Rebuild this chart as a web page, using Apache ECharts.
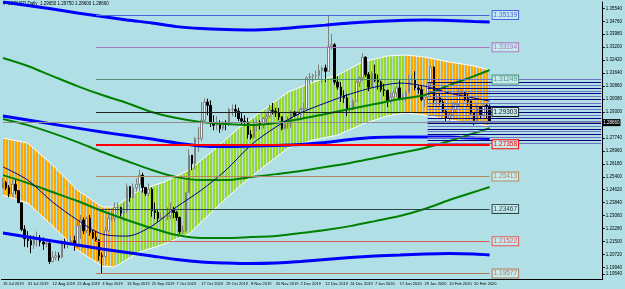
<!DOCTYPE html>
<html>
<head>
<meta charset="utf-8">
<script src="https://cdn.jsdelivr.net/npm/echarts@6/dist/echarts.min.js"></script>
<style>
html, body { margin: 0; padding: 0; background: #b0e0e6; }
#main { width: 625px; height: 289px; }
</style>
</head>
<body>
<div id="main"></div>
<script>
// daily candles, 19 Jul 2019 .. 27 Feb 2020 : [open, high, low, close]
var ohlc = [
  [1.2475,1.2534,1.2468,1.2505],[1.2505,1.2515,1.2460,1.2474],[1.2474,1.2490,1.2417,1.2438],[1.2438,1.2521,1.2421,1.2494],
  [1.2494,1.2520,1.2435,1.2456],[1.2456,1.2460,1.2380,1.2385],[1.2383,1.2385,1.2212,1.2223],[1.2223,1.2248,1.2119,1.2167],
  [1.2166,1.2213,1.2115,1.2155],[1.2155,1.2187,1.2080,1.2130],[1.2130,1.2190,1.2105,1.2165],[1.2165,1.2210,1.2117,1.2172],
  [1.2172,1.2190,1.2122,1.2147],[1.2147,1.2175,1.2100,1.2135],[1.2135,1.2160,1.2115,1.2140],[1.2140,1.2147,1.2015,1.2030],
  [1.2030,1.2090,1.2025,1.2055],[1.2055,1.2092,1.2037,1.2065],[1.2065,1.2085,1.2035,1.2055],[1.2055,1.2160,1.2050,1.2150],
  [1.2150,1.2168,1.2108,1.2140],[1.2140,1.2158,1.2110,1.2145],[1.2145,1.2185,1.2132,1.2155],[1.2155,1.2185,1.2095,1.2130],
  [1.2130,1.2273,1.2110,1.2245],[1.2245,1.2310,1.2165,1.2280],[1.2280,1.2295,1.2195,1.2215],[1.2215,1.2300,1.2200,1.2290],
  [1.2290,1.2310,1.2185,1.2205],[1.2205,1.2220,1.2165,1.2175],[1.2175,1.2215,1.2150,1.2160],[1.2160,1.2165,1.2035,1.2065],
  [1.2065,1.2085,1.1958,1.2060],[1.2060,1.2240,1.2050,1.2215],[1.2215,1.2330,1.2210,1.2290],[1.2290,1.2335,1.2270,1.2290],
  [1.2290,1.2385,1.2270,1.2355],[1.2355,1.2385,1.2315,1.2355],[1.2355,1.2360,1.2300,1.2320],[1.2320,1.2385,1.2270,1.2335],
  [1.2335,1.2500,1.2320,1.2480],[1.2480,1.2485,1.2390,1.2415],[1.2415,1.2500,1.2410,1.2475],[1.2475,1.2530,1.2450,1.2495],
  [1.2495,1.2582,1.2455,1.2550],[1.2550,1.2565,1.2445,1.2475],[1.2475,1.2480,1.2425,1.2440],[1.2440,1.2500,1.2425,1.2465],
  [1.2465,1.2475,1.2300,1.2335],[1.2335,1.2385,1.2285,1.2325],[1.2325,1.2345,1.2270,1.2290],[1.2290,1.2325,1.2285,1.2295],
  [1.2295,1.2345,1.2205,1.2300],[1.2300,1.2355,1.2280,1.2305],[1.2305,1.2385,1.2285,1.2340],[1.2340,1.2360,1.2290,1.2325],
  [1.2325,1.2335,1.2275,1.2295],[1.2295,1.2300,1.2195,1.2210],[1.2210,1.2245,1.2195,1.2215],[1.2215,1.2450,1.2205,1.2445],
  [1.2445,1.2705,1.2440,1.2670],[1.2670,1.2670,1.2580,1.2620],[1.2620,1.2780,1.2585,1.2770],[1.2770,1.2840,1.2690,1.2770],
  [1.2770,1.2990,1.2755,1.2880],[1.2880,1.3013,1.2865,1.2990],[1.2990,1.3010,1.2910,1.2970],[1.2970,1.3000,1.2840,1.2865],
  [1.2865,1.2910,1.2820,1.2850],[1.2850,1.2905,1.2820,1.2855],[1.2855,1.2880,1.2805,1.2830],[1.2830,1.2875,1.2815,1.2860],
  [1.2860,1.2880,1.2820,1.2855],[1.2855,1.2955,1.2845,1.2945],[1.2945,1.2975,1.2905,1.2945],[1.2945,1.2975,1.2900,1.2935],
  [1.2935,1.2955,1.2875,1.2890],[1.2890,1.2925,1.2855,1.2875],[1.2875,1.2910,1.2845,1.2870],[1.2870,1.2895,1.2770,1.2795],
  [1.2795,1.2820,1.2765,1.2775],[1.2775,1.2885,1.2770,1.2860],[1.2860,1.2885,1.2815,1.2860],[1.2860,1.2880,1.2825,1.2855],
  [1.2855,1.2900,1.2830,1.2890],[1.2890,1.2920,1.2860,1.2905],[1.2905,1.2975,1.2895,1.2940],[1.2940,1.2985,1.2915,1.2935],
  [1.2935,1.2955,1.2900,1.2925],[1.2925,1.2955,1.2880,1.2900],[1.2900,1.2905,1.2820,1.2830],[1.2830,1.2880,1.2825,1.2860],
  [1.2860,1.2905,1.2830,1.2860],[1.2860,1.2940,1.2835,1.2930],[1.2930,1.2935,1.2900,1.2910],[1.2910,1.2935,1.2885,1.2930],
  [1.2930,1.2960,1.2895,1.2945],[1.2945,1.2985,1.2895,1.2950],[1.2950,1.3145,1.2945,1.3135],[1.3135,1.3165,1.3095,1.3145],
  [1.3145,1.3160,1.3110,1.3150],[1.3150,1.3180,1.3130,1.3150],[1.3150,1.3215,1.3125,1.3180],[1.3180,1.3205,1.3105,1.3195],
  [1.3195,1.3215,1.3110,1.3175],[1.3175,1.3515,1.3175,1.3325],[1.3325,1.3400,1.3305,1.3335],[1.3335,1.3345,1.3095,1.3110],
  [1.3110,1.3145,1.3065,1.3080],[1.3080,1.3110,1.2990,1.3030],[1.3030,1.3060,1.2985,1.3015],[1.3015,1.3040,1.2905,1.2945],
  [1.2945,1.2970,1.2930,1.2945],[1.2945,1.3010,1.2940,1.2995],[1.2995,1.3120,1.2990,1.3110],[1.3110,1.3145,1.3080,1.3135],
  [1.3135,1.3285,1.3115,1.3260],[1.3260,1.3265,1.3140,1.3155],[1.3155,1.3170,1.3055,1.3080],[1.3080,1.3175,1.3075,1.3160],
  [1.3160,1.3215,1.3110,1.3120],[1.3120,1.3155,1.3065,1.3110],[1.3110,1.3120,1.3050,1.3065],[1.3065,1.3100,1.3025,1.3060],
  [1.3060,1.3065,1.2960,1.2995],[1.2995,1.3045,1.2980,1.3020],[1.3020,1.3060,1.2995,1.3045],[1.3045,1.3090,1.3020,1.3075],
  [1.3075,1.3120,1.3000,1.3010],[1.3010,1.3045,1.2995,1.3020],[1.3020,1.3060,1.2990,1.3045],[1.3045,1.3155,1.3045,1.3120],
  [1.3120,1.3155,1.3095,1.3125],[1.3125,1.3175,1.3060,1.3075],[1.3075,1.3090,1.3040,1.3065],[1.3065,1.3090,1.2995,1.3005],
  [1.3005,1.3030,1.2960,1.3020],[1.3020,1.3110,1.2975,1.3100],[1.3100,1.3210,1.3070,1.3200],[1.3200,1.3205,1.2975,1.3000],
  [1.3000,1.3040,1.2960,1.3015],[1.3015,1.3045,1.2975,1.2990],[1.2990,1.3010,1.2925,1.2935],[1.2935,1.2945,1.2870,1.2895],
  [1.2895,1.2935,1.2870,1.2915],[1.2915,1.2990,1.2905,1.2945],[1.2945,1.2990,1.2925,1.2975],[1.2975,1.3070,1.2965,1.3045],
  [1.3045,1.3065,1.3020,1.3045],[1.3045,1.3050,1.2995,1.3010],[1.3010,1.3040,1.2970,1.2995],[1.2995,1.3000,1.2915,1.2925],
  [1.2925,1.2930,1.2850,1.2880],[1.2880,1.2975,1.2875,1.2960],[1.2960,1.2965,1.2890,1.2915],[1.2915,1.2985,1.2910,1.2970],
  [1.2970,1.2980,1.2890,1.2965],[1.2965,1.2975,1.2860,1.2866]
];

// indicator lines, read at every 8th bar
var lineIdx = [0, 8, 16, 24, 32, 40, 48, 56, 64, 72, 80, 88, 96, 104, 112, 120, 128, 136, 144, 152, 157];
var blueTop = [1.3592,1.3571,1.3550,1.3526,1.3505,1.3484,1.3466,1.3444,1.3432,1.3426,1.3423,1.3429,1.3441,1.3453,1.3466,1.3475,1.3481,1.3484,1.3481,1.3475,1.3472];
var blueMid = [1.2906,1.2882,1.2857,1.2833,1.2809,1.2788,1.2767,1.2743,1.2725,1.2722,1.2725,1.2728,1.2734,1.2746,1.2764,1.2776,1.2779,1.2779,1.2779,1.2773,1.2770];
var blueLow = [1.2201,1.2177,1.2153,1.2129,1.2105,1.2084,1.2063,1.2042,1.2027,1.2021,1.2018,1.2021,1.2030,1.2042,1.2054,1.2063,1.2069,1.2075,1.2078,1.2075,1.2069];
var navyMa = [1.2599,1.2520,1.2388,1.2280,1.2195,1.2183,1.2243,1.2358,1.2460,1.2581,1.2731,1.2839,1.2924,1.2984,1.3038,1.3080,1.3104,1.3086,1.3044,1.3014,1.2996];
var green1 = [1.3255,1.3207,1.3146,1.3086,1.3032,1.2984,1.2930,1.2894,1.2869,1.2857,1.2851,1.2863,1.2888,1.2918,1.2948,1.2978,1.3008,1.3032,1.3092,1.3146,1.3183];
var green2 = [1.2888,1.2851,1.2803,1.2749,1.2689,1.2635,1.2581,1.2538,1.2520,1.2520,1.2538,1.2556,1.2575,1.2599,1.2623,1.2653,1.2683,1.2713,1.2755,1.2803,1.2833];
var green3 = [1.2550,1.2502,1.2448,1.2394,1.2334,1.2280,1.2231,1.2189,1.2171,1.2171,1.2177,1.2183,1.2201,1.2219,1.2243,1.2273,1.2304,1.2346,1.2400,1.2448,1.2478];

// envelope band
var bandIdx = [0, 8, 16, 24, 32, 36, 44, 52, 60, 68, 76, 84, 92, 100, 108, 116, 124, 130, 136, 144, 152, 157];
var bandUpper = [1.2773,1.2743,1.2611,1.2460,1.2358,1.2358,1.2460,1.2508,1.2581,1.2701,1.2833,1.2942,1.3050,1.3110,1.3152,1.3231,1.3267,1.3273,1.3261,1.3231,1.3207,1.3183];
var bandLower = [1.2430,1.2382,1.2243,1.2099,1.2003,1.1997,1.2087,1.2135,1.2195,1.2340,1.2478,1.2599,1.2713,1.2761,1.2791,1.2857,1.2906,1.2924,1.2912,1.2882,1.2863,1.2845];
var greenFrom = 36, greenTo = 130;

// horizontal levels
var levels = [1.35139, 1.33194, 1.31249, 1.29303, 1.27358, 1.25413, 1.23467, 1.21522, 1.19577];
var levelColors = ['#4a62e0', '#a878c0', '#4f8f7a', '#202020', '#ff0000', '#b8865e', '#2c4848', '#e05a5a', '#b07a5a'];

// grid of lines on the right
var gridLevels = [1.3127,1.3110,1.3092,1.3074,1.3053,1.3041,1.3023,1.3005,1.2984,1.2966,1.2948,1.2930,1.2912,1.2894,1.2876,1.2863,1.2845,1.2827,1.2815,1.2797,1.2779,1.2761,1.2743];

var yTicks = [1.35540,1.34760,1.33980,1.33200,1.32420,1.31640,1.30860,1.30080,1.29300,1.27740,1.26960,1.26180,1.25400,1.24620,1.23840,1.23060,1.22280,1.21500,1.20720,1.19940,1.19540];
var bid = 1.28660;

// trading days (no weekends, no 25 Dec / 1 Jan), then empty space on the right
var months = ['Jan','Feb','Mar','Apr','May','Jun','Jul','Aug','Sep','Oct','Nov','Dec'];
var holidays = ['2019-12-25', '2020-01-01'];
var dates = [];
var d = new Date(Date.UTC(2019, 6, 19));
while (dates.length < ohlc.length) {
  var wd = d.getUTCDay();
  if (wd !== 0 && wd !== 6 && holidays.indexOf(d.toISOString().slice(0, 10)) < 0) {
    dates.push(d.getUTCDate() + ' ' + months[d.getUTCMonth()] + ' ' + d.getUTCFullYear());
  }
  d.setUTCDate(d.getUTCDate() + 1);
}
for (var i = 0; i < 36; i++) dates.push('');
var lastBar = dates.length - 1;

function pairs(idx, vals) {
  return idx.map(function (x, k) { return [x, vals[k]]; });
}

function stripes(color) {
  var c = document.createElement('canvas');
  c.width = 3; c.height = 2;
  var ctx = c.getContext('2d');
  ctx.fillStyle = color;
  ctx.fillRect(0, 0, 2, 2);
  return { image: c, repeat: 'repeat' };
}
var orangeFill = stripes('#ffa500');
var greenFill = stripes('#9ad62c');

var bandSegs = [];
for (var k = 0; k < bandIdx.length - 1; k++) {
  var isGreen = bandIdx[k] >= greenFrom && bandIdx[k + 1] <= greenTo ? 1 : 0;
  bandSegs.push([bandIdx[k], bandLower[k], bandUpper[k], bandIdx[k + 1], bandLower[k + 1], bandUpper[k + 1], isGreen]);
}

function lineSeries(vals, color, width) {
  return {
    type: 'line', data: pairs(lineIdx, vals), symbol: 'none', smooth: 0.3, z: 4,
    lineStyle: { color: color, width: width }
  };
}

var levelLines = levels.map(function (v, k) {
  return [
    { coord: [30, v], lineStyle: { color: levelColors[k], width: v === 1.27358 ? 2 : 1, type: 'solid', opacity: 1 },
      label: { color: levelColors[k], borderColor: levelColors[k], formatter: v.toFixed(5) } },
    { coord: [157, v] }
  ];
});
var gridLines = gridLevels.map(function (v, k) {
  return [
    { coord: [137, v], lineStyle: { color: k % 2 ? '#000080' : '#6f74c4', width: 1, type: 'solid', opacity: 1 } },
    { coord: [lastBar, v] }
  ];
});

var myChart = echarts.init(document.getElementById('main'));
var option = {
  animation: false,
  backgroundColor: '#b0e0e6',
  textStyle: { fontFamily: 'Liberation Sans' },
  grid: { left: 1, right: 17, top: 2, bottom: 10 },
  graphic: [{
    type: 'text', left: 3, top: 1,
    style: { text: '\u25BE GBPUSD,Daily  1.29650 1.29750 1.28600 1.28660', fontSize: 4.5, fill: '#000', fontFamily: 'Liberation Sans' }
  }],
  xAxis: {
    type: 'category', data: dates, boundaryGap: true,
    axisLine: { lineStyle: { color: '#000', width: 1 } },
    axisTick: { interval: 7, alignWithLabel: true, length: 2, lineStyle: { color: '#000' } },
    axisLabel: { interval: 7, align: 'left', fontSize: 4, margin: 3, color: '#000', showMinLabel: true, hideOverlap: false },
    splitLine: { show: false }
  },
  yAxis: {
    type: 'value', position: 'right', min: 1.19246, max: 1.35922, scale: true,
    axisLine: { show: true, lineStyle: { color: '#000', width: 1 } },
    axisTick: { show: true, length: 2, customValues: yTicks, lineStyle: { color: '#000' } },
    axisLabel: { fontSize: 4.5, margin: 3, color: '#000', customValues: yTicks,
      formatter: function (v) { return v.toFixed(5); } },
    splitLine: { show: false }
  },
  series: [
    {
      type: 'custom', data: bandSegs, z: 1, silent: true,
      encode: { x: [0, 3], y: [1, 2, 4, 5] },
      renderItem: function (params, api) {
        var a = api.coord([api.value(0), api.value(1)]);
        var b = api.coord([api.value(0), api.value(2)]);
        var c = api.coord([api.value(3), api.value(5)]);
        var e = api.coord([api.value(3), api.value(4)]);
        return { type: 'polygon', shape: { points: [a, b, c, e] },
          style: { fill: api.value(6) ? greenFill : orangeFill } };
      }
    },
    { type: 'line', data: pairs(bandIdx, bandUpper), symbol: 'none', z: 2, lineStyle: { color: '#ffffff', width: 1 } },
    { type: 'line', data: pairs(bandIdx, bandLower), symbol: 'none', z: 2, lineStyle: { color: '#ffffff', width: 1 } },
    {
      type: 'candlestick', z: 3, barWidth: 2,
      data: ohlc.map(function (r) { return [r[0], r[3], r[2], r[1]]; }),
      itemStyle: { color: '#f4f4f4', color0: '#000000', borderColor: '#808080', borderColor0: '#000000', borderWidth: 1 },
      markLine: {
        symbol: 'none', silent: true, animation: false,
        lineStyle: { type: 'solid', opacity: 1 },
        label: { position: 'end', fontSize: 6.5, distance: 3, padding: [1, 1, 0, 1], borderWidth: 1,
          backgroundColor: '#c4eaee' },
        emphasis: { disabled: true },
        data: levelLines
      }
    },
    lineSeries(blueTop, '#0000ff', 3),
    lineSeries(blueMid, '#0000ff', 3),
    lineSeries(blueLow, '#0000ff', 3),
    lineSeries(green1, '#008000', 2),
    lineSeries(green2, '#008000', 2),
    lineSeries(green3, '#008000', 2),
    lineSeries(navyMa, '#00008b', 1),
    {
      type: 'line', data: [], z: 2,
      markLine: {
        symbol: 'none', silent: true, animation: false,
        lineStyle: { type: 'solid', opacity: 1 },
        label: { show: false },
        emphasis: { disabled: true },
        data: gridLines.concat([[
          { coord: [0, bid], lineStyle: { color: '#8c8c8c', width: 1, type: 'solid' },
            label: { show: true, position: 'end', distance: 1, fontSize: 4.5, color: '#fff', backgroundColor: '#000',
              padding: [1, 1, 1, 1], formatter: bid.toFixed(5) } },
          { coord: [lastBar, bid] }
        ]])
      }
    }
  ]
};
myChart.setOption(option);
</script>
</body>
</html>
